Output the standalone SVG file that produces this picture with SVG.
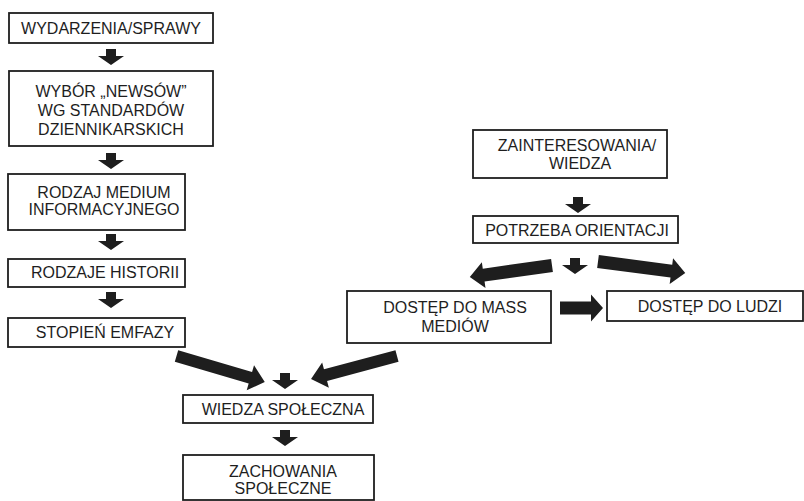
<svg xmlns="http://www.w3.org/2000/svg" width="804" height="501" viewBox="0 0 804 501">
<style>
.box{fill:#fff;stroke:#1e1e1e;stroke-width:1.8}
.t{font-family:"Liberation Sans",Arial,Helvetica,sans-serif;font-size:16px;fill:#1e1e1e;text-anchor:middle}
.arr{fill:#1e1e1e}
</style>
<defs>
<polygon id="down" points="-5,0 5,0 5,7 13,7 0,16 -13,7 -5,7"/>
</defs>
<rect width="804" height="501" fill="#fff"/>
<g id="n1"><rect class="box" x="9" y="13" width="204" height="30"/><text class="t" x="111" y="34">WYDARZENIA/SPRAWY</text></g>
<g id="n2"><rect class="box" x="9" y="71" width="204" height="75"/><text class="t" x="111" y="97">WYBÓR „NEWSÓW”</text><text class="t" x="111" y="116">WG STANDARDÓW</text><text class="t" x="111" y="135">DZIENNIKARSKICH</text></g>
<g id="n3"><rect class="box" x="8" y="174" width="177" height="56"/><text class="t" x="104" y="198">RODZAJ MEDIUM</text><text class="t" x="104" y="215">INFORMACYJNEGO</text></g>
<g id="n4"><rect class="box" x="8" y="259" width="177" height="28"/><text class="t" x="105" y="278">RODZAJE HISTORII</text></g>
<g id="n5"><rect class="box" x="8" y="318" width="177" height="29"/><text class="t" x="105" y="338">STOPIEŃ EMFAZY</text></g>
<g id="n6"><rect class="box" x="183" y="395" width="190" height="28"/><text class="t" x="283" y="415">WIEDZA SPOŁECZNA</text></g>
<g id="n7"><rect class="box" x="183" y="455" width="191" height="45"/><text class="t" x="283" y="477">ZACHOWANIA</text><text class="t" x="283" y="494">SPOŁECZNE</text></g>
<g id="n8"><rect class="box" x="473" y="130" width="194" height="48"/><text class="t" x="577" y="151">ZAINTERESOWANIA/</text><text class="t" x="580" y="169">WIEDZA</text></g>
<g id="n9"><rect class="box" x="473" y="216" width="205" height="27"/><text class="t" x="577" y="236">POTRZEBA ORIENTACJI</text></g>
<g id="n10"><rect class="box" x="347" y="291" width="204" height="52"/><text class="t" x="455" y="313">DOSTĘP DO MASS</text><text class="t" x="455" y="332">MEDIÓW</text></g>
<g id="n11"><rect class="box" x="607" y="291" width="196" height="30"/><text class="t" x="710" y="312">DOSTĘP DO LUDZI</text></g>
<g id="connectors" class="arr">
<use href="#down" x="111" y="49"/>
<use href="#down" x="111" y="153"/>
<use href="#down" x="111" y="234"/>
<use href="#down" x="111" y="292"/>
<use href="#down" x="285" y="373"/>
<use href="#down" x="285" y="430"/>
<use href="#down" x="578" y="197"/>
<use href="#down" x="575" y="258"/>
<polygon transform="translate(176.5,356) rotate(16.4)" points="0,-6 77,-6 77,-13 92,0 77,13 77,6 0,6"/>
<polygon transform="translate(397,356) rotate(165)" points="0,-6 74,-6 74,-13 89,0 74,13 74,6 0,6"/>
<polygon transform="translate(552,265.5) rotate(172)" points="0,-6.5 69,-6.5 69,-13 83,0 69,13 69,6.5 0,6.5"/>
<polygon transform="translate(598,261.5) rotate(7.5)" points="0,-6.5 74,-6.5 74,-13 88,0 74,13 74,6.5 0,6.5"/>
<polygon points="560,301.5 591,301.5 591,294.5 603,308 591,321.5 591,314.5 560,314.5"/>
</g>
</svg>
